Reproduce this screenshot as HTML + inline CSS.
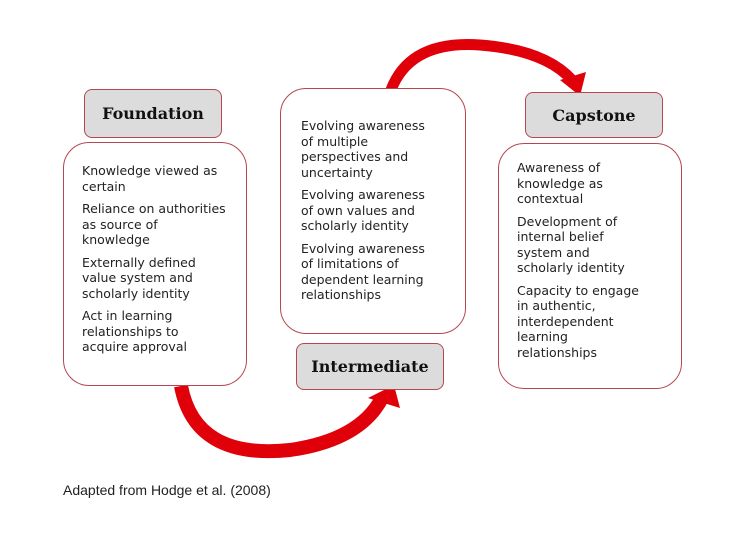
<!DOCTYPE html>
<html><head><style>
body{margin:0;width:747px;height:560px;background:#fff;position:relative;overflow:hidden;font-family:"DejaVu Sans",Verdana,sans-serif}
.lab{position:absolute;background:#dcdcdc;border:1.5px solid #b5474f;border-radius:8px;font-family:"DejaVu Serif",serif;font-weight:bold;font-size:16px;color:#111;display:flex;align-items:center;justify-content:center;box-sizing:border-box}
.box{position:absolute;background:#fff;border:1.5px solid #b5474f;border-radius:26px;box-sizing:border-box;font-size:12.5px;line-height:15.5px;color:#222}
.box p{margin:0 0 7px 0}
.cap{position:absolute;left:63px;top:482px;font-family:"Liberation Sans",Arial,sans-serif;font-size:14px;color:#222}
</style></head><body>
<svg width="747" height="560" style="position:absolute;left:0;top:0">
<path d="M181 386 Q 195 460 290 450 Q 360 440 382 398" fill="none" stroke="#e0000a" stroke-width="14"/>
<polygon points="368,398 394,385 400,408" fill="#e0000a"/>
<path d="M391 90 Q 410 40 480 45 Q 545 50 572 80" fill="none" stroke="#e0000a" stroke-width="11"/>
<polygon points="560,80 586,72 580,96" fill="#e0000a"/>
</svg>
<div class="box" style="left:63px;top:142px;width:184px;height:244px;padding:20px 18px 0 18px">
<p>Knowledge viewed as certain</p><p>Reliance on authorities as source of knowledge</p><p>Externally defined value system and scholarly identity</p><p>Act in learning relationships to acquire approval</p></div>
<div class="lab" style="left:84px;top:89px;width:138px;height:49px">Foundation</div>
<div class="box" style="left:280px;top:88px;width:186px;height:246px;padding:29px 26px 0 20px">
<p>Evolving awareness of multiple perspectives and uncertainty</p><p>Evolving awareness of own values and scholarly identity</p><p>Evolving awareness of limitations of dependent learning relationships</p></div>
<div class="lab" style="left:296px;top:343px;width:148px;height:47px">Intermediate</div>
<div class="lab" style="left:525px;top:92px;width:138px;height:46px">Capstone</div>
<div class="box" style="left:498px;top:143px;width:184px;height:246px;padding:16px 0 0 18px;white-space:nowrap">
<p>Awareness of<br>knowledge as<br>contextual</p><p>Development of<br>internal belief<br>system and<br>scholarly identity</p><p>Capacity to engage<br>in authentic,<br>interdependent<br>learning<br>relationships</p></div>
<div class="cap">Adapted from Hodge et al. (2008)</div>
</body></html>
